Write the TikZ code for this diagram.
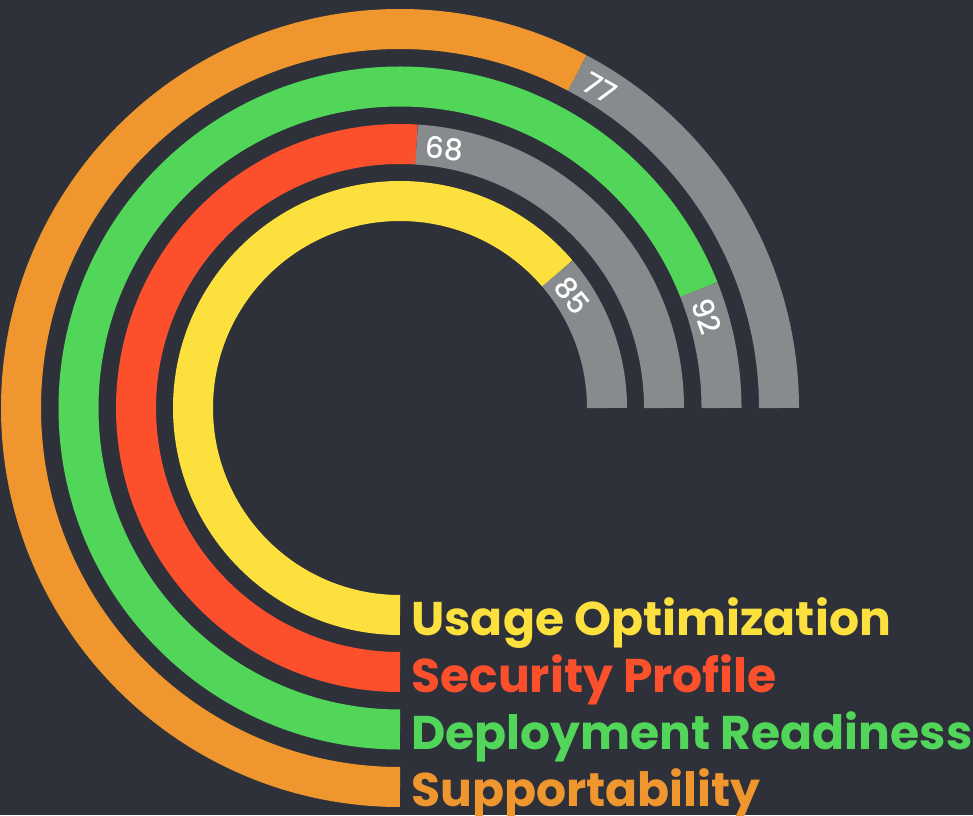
\documentclass[tikz,border=0pt]{standalone}
\usepackage{fontspec}
\setmainfont{Poppins}
\IfFontExistsTF{Poppins Medium}
  {\newfontfamily\scorefont{Poppins Medium}}
  {\newfontfamily\scorefont[FakeBold=0.6]{Poppins}}
\usetikzlibrary{positioning}
\usetikzlibrary{calc}

\definecolor{bgdark}{HTML}{2E3139}
\definecolor{ringgray}{HTML}{888B8E}
\definecolor{usagecol}{HTML}{FCE03E}
\definecolor{securitycol}{HTML}{FC502C}
\definecolor{deploycol}{HTML}{52D65A}
\definecolor{supportcol}{HTML}{EF962E}

\tikzset{
  ring/.style={line width=10mm},
  score/.style={text=white, inner sep=0pt, anchor=west,
    font=\scorefont\fontsize{21}{24}\selectfont},
  legend/.style={inner sep=0pt, anchor=base west,
    font=\fontsize{33.6}{36}\selectfont\bfseries}
}

\begin{document}
\begin{tikzpicture}[x=0.25mm, y=0.25mm]
        \fill[bgdark] (0,0) rectangle (973,815);
        \useasboundingbox (0,0) rectangle (973,815);
        \coordinate (center) at (400,407);

        % Usage Optimization, 85
        \draw[ring, usagecol] (center) ++(270:207) arc[start angle=270, end angle=40.5, radius=207];
        \draw[ring, ringgray] (center) ++(40.5:207) arc[start angle=40.5, end angle=0, radius=207];
        \node[score, rotate=-51.5] (usagescore) at ($(center)+(38.5:205)$) {85};

        % Security Profile, 68
        \draw[ring, securitycol] (center) ++(270:264) arc[start angle=270, end angle=86.4, radius=264];
        \draw[ring, ringgray] (center) ++(86.4:264) arc[start angle=86.4, end angle=0, radius=264];
        \node[score, rotate=-5.6] (securityscore) at ($(center)+(84.4:262)$) {68};

        % Deployment Readiness, 92
        \draw[ring, deploycol] (center) ++(270:321.5) arc[start angle=270, end angle=21.6, radius=321.5];
        \draw[ring, ringgray] (center) ++(21.6:321.5) arc[start angle=21.6, end angle=0, radius=321.5];
        \node[score, rotate=-70.1] (deployscore) at ($(center)+(19.9:319.5)$) {92};

        % Supportability, 77
        \draw[ring, supportcol] (center) ++(270:379) arc[start angle=270, end angle=62.1, radius=379];
        \draw[ring, ringgray] (center) ++(62.1:379) arc[start angle=62.1, end angle=0, radius=379];
        \node[score, rotate=-29.4] (supportscore) at ($(center)+(60.6:377)$) {77};

        \node[legend, text=usagecol] (usage) at (411,180) {Usage Optimization};
        \node[legend, text=securitycol] (security) at (411,123) {Security Profile};
        \node[legend, text=deploycol] (deploy) at (411,66) {Deployment Readiness};
        \node[legend, text=supportcol] (support) at (411,9) {Supportability};
    \end{tikzpicture}
\end{document}
